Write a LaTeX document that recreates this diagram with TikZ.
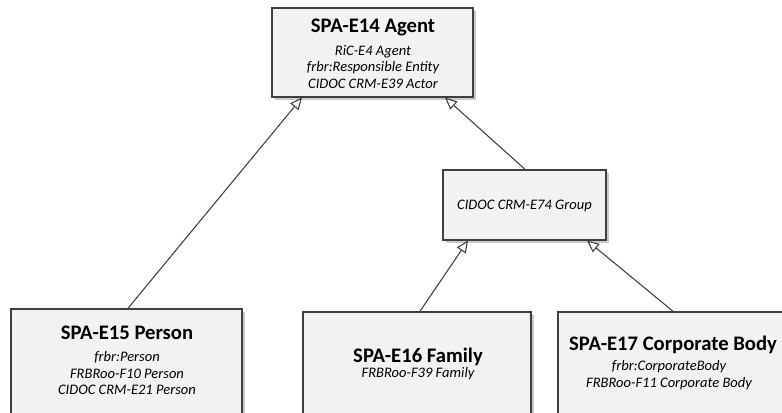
\documentclass[tikz,border=0pt]{standalone}
\usepackage{fontspec}
\setmainfont{Carlito}
\usetikzlibrary{arrows.meta,shadows}
\definecolor{edge}{HTML}{3F3F3F}
\definecolor{boxfill}{HTML}{F2F2F2}
\begin{document}
\begin{tikzpicture}[x=0.75pt,y=-0.75pt,
  box/.style={draw=edge,line width=1.1pt,fill=boxfill,inner sep=0pt,
    drop shadow={shadow xshift=2.2pt,shadow yshift=-2.2pt,fill=black!35,opacity=0.6}},
  ttl/.style={font=\fontsize{15.5pt}{18pt}\selectfont\bfseries,inner sep=0pt,anchor=center},
  sub/.style={font=\fontsize{10.9pt}{12.6pt}\selectfont\itshape,inner sep=0pt,anchor=center,align=center},
  gen/.style={draw=edge,line width=0.8pt,-{Triangle[open,fill=white,length=9pt,width=8pt]}}]
\useasboundingbox (0,0) rectangle (782,412);
\clip (0,0) rectangle (782,412);
% boxes
\node[box,minimum width=201*0.75pt,minimum height=89*0.75pt] (agent) at (372.5,52.5) {};
\node[box,minimum width=163*0.75pt,minimum height=70*0.75pt] (group) at (524.5,205) {};
\node[box,minimum width=231*0.75pt,minimum height=130*0.75pt] (person) at (126.5,374) {};
\node[box,minimum width=228*0.75pt,minimum height=130*0.75pt] (family) at (417,377) {};
\node[box,minimum width=230*0.75pt,minimum height=130*0.75pt] (corp) at (673,377) {};
% texts
\node[ttl] (agentT) at (373,27) {SPA-E14 Agent};
\node[sub] (agentS) at (373,67) {RiC-E4 Agent\\frbr:Responsible Entity\\CIDOC CRM-E39 Actor};
\node[sub] (groupT) at (524.5,206) {CIDOC CRM-E74 Group};
\node[ttl] (personT) at (127,333) {SPA-E15 Person};
\node[sub] (personS) at (127,373) {frbr:Person\\FRBRoo-F10 Person\\CIDOC CRM-E21 Person};
\node[ttl] (familyT) at (418,357) {SPA-E16 Family};
\node[sub] (familyS) at (418,374) {FRBRoo-F39 Family};
\node[ttl] (corpT) at (673,345) {SPA-E17 Corporate Body};
\node[sub] (corpS) at (669,375) {frbr:CorporateBody\\FRBRoo-F11 Corporate Body};
% connectors
\coordinate (pA) at (302,97.5);
\coordinate (gA) at (445,97.5);
\coordinate (fG) at (468,240.5);
\coordinate (cG) at (587,240.5);
\draw[gen] (person.north -| 128,0) -- (pA);
\draw[gen] (group.north -| 525,0) -- (gA);
\draw[gen] (family.north -| 420,0) -- (fG);
\draw[gen] (corp.north -| 673,0) -- (cG);
\end{tikzpicture}
\end{document}
